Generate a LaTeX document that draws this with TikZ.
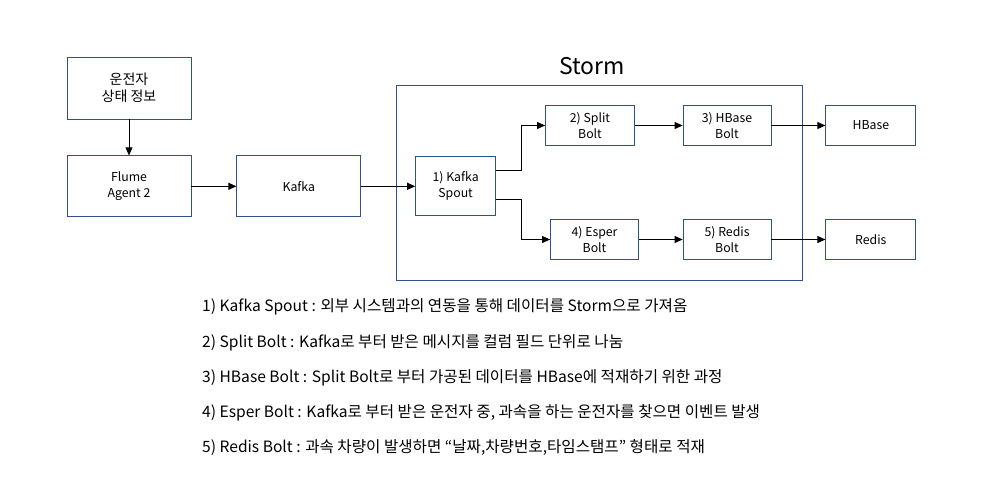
\documentclass[tikz,border=0pt]{standalone}
\usepackage{fontspec}
\setmainfont{Noto Sans CJK KR}
\usetikzlibrary{positioning,arrows.meta}

\definecolor{boxblue}{HTML}{2F528F}

\begin{document}
\begin{tikzpicture}[x=1pt,y=-1pt,
	box/.style={draw=boxblue,line width=0.8pt,fill=white,inner sep=0pt,align=center,font=\fontsize{12.3}{16}\selectfont},
	link/.style={line width=0.8pt,-{Triangle[length=8pt,width=7pt]}},
	note/.style={anchor=base west,inner sep=0pt,font=\fontsize{15.6}{18}\selectfont}]
	\useasboundingbox (0,0) rectangle (982,482);

	% storm frame
	\node[draw=boxblue,line width=0.8pt,minimum width=406pt,minimum height=195pt] (storm) at (599,182.5) {};
	\node[font=\fontsize{23}{26}\selectfont] (stormtitle) at (592,66) {Storm};

	\node[box,minimum width=124pt,minimum height=62pt,font=\fontsize{14}{17}\selectfont]	(driver)	at (129,88)	{운전자\\상태 정보};
	\node[box,minimum width=124pt,minimum height=61pt,below=36pt of driver]	(flume)		{Flume\\Agent 2};
	\node[box,minimum width=124pt,minimum height=61pt,right=45pt of flume]		(kafka)		{Kafka};
	\node[box,minimum width=80pt,minimum height=59pt,right=54pt of kafka]		(spout)		{1) Kafka\\Spout};

	\node[box,minimum width=89pt,minimum height=40pt]					(split)	at (590,125.5)	{2) Split\\Bolt};
	\node[box,minimum width=88pt,minimum height=40pt]					(hbolt)	at (727,125.5)	{3) HBase\\Bolt};
	\node[box,minimum width=88pt,minimum height=40pt]					(esper)	at (594.5,239.5)	{4) Esper\\Bolt};
	\node[box,minimum width=88pt,minimum height=40pt]					(rbolt)	at (727,239.5)	{5) Redis\\Bolt};

	\node[box,minimum width=90pt,minimum height=40pt,right=54pt of hbolt]	(hbase)	{HBase};
	\node[box,minimum width=90pt,minimum height=40pt,right=54pt of rbolt]	(redis)	{Redis};

	\draw[link] (driver) -- (flume);
	\draw[link] (flume) -- (kafka);
	\draw[link] (kafka) -- (spout);
	\draw[link] ([yshift=16pt]spout.east) -- ++(25,0) |- (split.west);
	\draw[link] ([yshift=-13pt]spout.east) -- ++(25,0) |- (esper.west);
	\draw[link] (split) -- (hbolt);
	\draw[link] (esper) -- (rbolt);
	\draw[link] (hbolt) -- (hbase);
	\draw[link] (rbolt) -- (redis);

	% descriptions
	\node[note] (note1) at (202,311) {1) Kafka Spout : 외부 시스템과의 연동을 통해 데이터를 Storm으로 가져옴};
	\node[note] (note2) at (202,347) {2) Split Bolt : Kafka로 부터 받은 메시지를 컬럼 필드 단위로 나눔};
	\node[note] (note3) at (202,382) {3) HBase Bolt : Split Bolt로 부터 가공된 데이터를 HBase에 적재하기 위한 과정};
	\node[note] (note4) at (202,417) {4) Esper Bolt : Kafka로 부터 받은 운전자 중, 과속을 하는 운전자를 찾으면 이벤트 발생};
	\node[note] (note5) at (202,452) {5) Redis Bolt : 과속 차량이 발생하면 “날짜,차량번호,타임스탬프” 형태로 적재};
\end{tikzpicture}
\end{document}
